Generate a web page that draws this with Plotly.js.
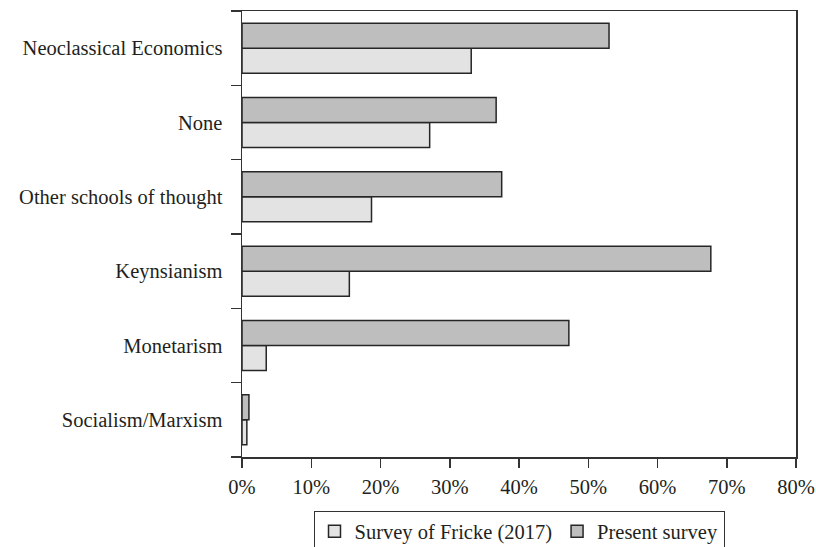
<!DOCTYPE html>
<html>
<head>
<meta charset="utf-8">
<script src="https://cdn.plot.ly/plotly-3.0.1.min.js"></script>
<style>html,body{margin:0;padding:0;background:#fff;}#chart{width:816px;height:547px;}</style>
</head>
<body>
<div id="chart"></div>
<script>
// Categories listed bottom-to-top (Plotly draws the first category at the bottom)
var categories = ["Socialism/Marxism", "Monetarism", "Keynsianism", "Other schools of thought", "None", "Neoclassical Economics"];
var fricke2017 = [0.7, 3.5, 15.5, 18.7, 27.1, 33.1];
var presentSurvey = [1.0, 47.2, 67.7, 37.5, 36.7, 53.0];
var xTickVals = [0, 10, 20, 30, 40, 50, 60, 70, 80];
var xTickText = ["0%", "10%", "20%", "30%", "40%", "50%", "60%", "70%", "80%"];

var fontFam = "'Liberation Serif', 'Times New Roman', serif";
var traces = [
  {
    type: "bar", orientation: "h", name: "Survey of Fricke (2017)",
    y: categories, x: fricke2017,
    marker: {color: "#e3e3e3", line: {color: "#262626", width: 1.5}},
    hoverinfo: "x+y"
  },
  {
    type: "bar", orientation: "h", name: "Present survey",
    y: categories, x: presentSurvey,
    marker: {color: "#bebebe", line: {color: "#262626", width: 1.5}},
    hoverinfo: "x+y"
  }
];

var layout = {
  width: 816, height: 547,
  margin: {l: 242, r: 20, t: 11, b: 90, pad: 0, autoexpand: false},
  paper_bgcolor: "#fff", plot_bgcolor: "#fff",
  font: {family: fontFam, size: 20.5, color: "#231f20"},
  barmode: "group", bargap: 0.327, bargroupgap: 0,
  showlegend: true,
  legend: {
    orientation: "h", x: 0.5, xanchor: "center", y: -0.12, yanchor: "top",
    bordercolor: "#333", borderwidth: 1, bgcolor: "#fff",
    font: {family: fontFam, size: 20.5, color: "#231f20"},
    itemwidth: 30, traceorder: "normal"
  },
  xaxis: {
    range: [0, 80], tickvals: xTickVals, ticktext: xTickText,
    showgrid: false, zeroline: false, automargin: false,
    showline: true, linecolor: "#333", linewidth: 1.5, mirror: true,
    ticks: "outside", ticklen: 9, tickwidth: 1.5, tickcolor: "#333",
    ticklabelstandoff: 2,
    tickfont: {family: fontFam, size: 20.5, color: "#231f20"}
  },
  yaxis: {
    type: "category", showgrid: false, zeroline: false, automargin: false,
    showline: true, linecolor: "#333", linewidth: 1.5, mirror: true,
    ticks: "outside", tickson: "boundaries", ticklen: 10, tickwidth: 1.5, tickcolor: "#333",
    ticklabelstandoff: 14,
    tickfont: {family: fontFam, size: 20.5, color: "#231f20"}
  }
};

Plotly.newPlot("chart", traces, layout, {displayModeBar: false, staticPlot: true});
</script>
</body>
</html>
